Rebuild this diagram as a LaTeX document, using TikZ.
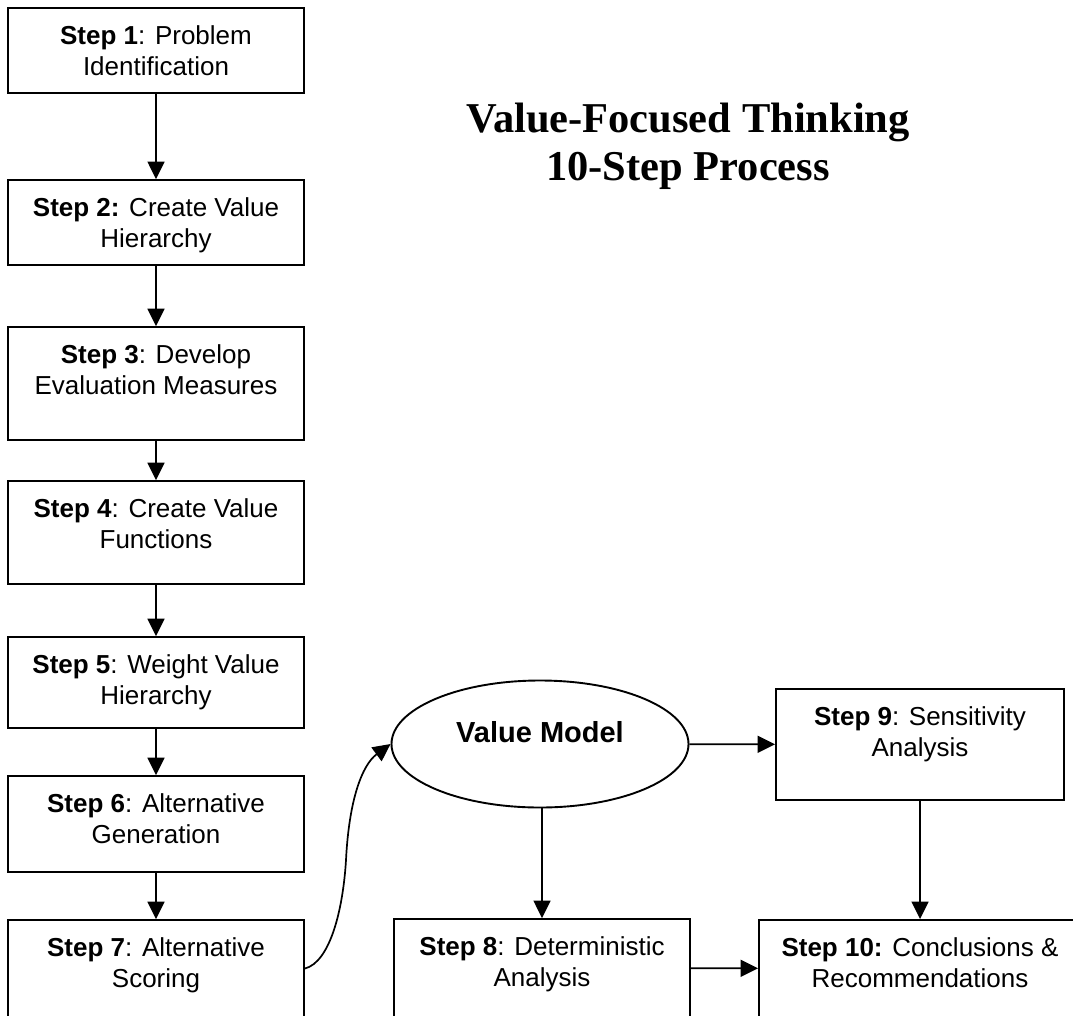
\documentclass[tikz,border=0pt]{standalone}
\usepackage{fontspec}
\setmainfont{Liberation Serif}
\setsansfont{Liberation Sans}
\usetikzlibrary{arrows.meta,shapes.geometric}
\begin{document}
\begin{tikzpicture}[x=1pt,y=-1pt,
  stepbox/.style={draw, line width=1.9pt, rectangle, inner sep=0pt},
  steplabel/.style={anchor=north, align=center, inner sep=0pt,
    font=\sffamily\fontsize{26}{31}\selectfont},
  modelnode/.style={draw, line width=1.9pt, ellipse, inner sep=0pt,
    font=\sffamily\bfseries\fontsize{29}{34}\selectfont,
    text height=20pt, text depth=24pt},
  flow/.style={line width=1.7pt, -{Triangle[length=17.5pt,width=17pt]}},
  titletext/.style={anchor=north, align=center, inner sep=0pt,
    font=\rmfamily\bfseries\fontsize{42.5}{48}\selectfont},
]
\useasboundingbox (0,0) rectangle (1073,1015);
\clip (0,0) rectangle (1073,1015);

% title
\node[titletext] (title) at (688,103) {Value-Focused Thinking\\10-Step Process};

% left column of steps
\node[stepbox, minimum width=296pt, minimum height=85pt] (s1) at (156,50.5) {};
\node[stepbox, minimum width=296pt, minimum height=85pt] (s2) at (156,222.5) {};
\node[stepbox, minimum width=296pt, minimum height=113pt] (s3) at (156,383.5) {};
\node[stepbox, minimum width=296pt, minimum height=103pt] (s4) at (156,532.5) {};
\node[stepbox, minimum width=296pt, minimum height=91pt] (s5) at (156,682.5) {};
\node[stepbox, minimum width=296pt, minimum height=96pt] (s6) at (156,824) {};
\node[stepbox, minimum width=296pt, minimum height=97pt] (s7) at (156,968.5) {};

% analysis steps
\node[modelnode, minimum width=297pt, minimum height=127pt] (vm) at (540,744) {Value Model};
\node[stepbox, minimum width=296pt, minimum height=98pt] (s8) at (542,968) {};
\node[stepbox, minimum width=288pt, minimum height=111pt] (s9) at (920,744.5) {};
\node[stepbox, minimum width=322pt, minimum height=97pt] (s10) at (920,968.5) {};

% box texts, set from the top edge of each box
\node[steplabel] (t1) at ([yshift=-18pt]s1.north) {\textbf{Step 1}: Problem\\Identification};
\node[steplabel] (t2) at ([yshift=-18pt]s2.north) {\textbf{Step 2:} Create Value\\Hierarchy};
\node[steplabel] (t3) at ([yshift=-18pt]s3.north) {\textbf{Step 3}: Develop\\Evaluation Measures};
\node[steplabel] (t4) at ([yshift=-18pt]s4.north) {\textbf{Step 4}: Create Value\\Functions};
\node[steplabel] (t5) at ([yshift=-18pt]s5.north) {\textbf{Step 5}: Weight Value\\Hierarchy};
\node[steplabel] (t6) at ([yshift=-18pt]s6.north) {\textbf{Step 6}: Alternative\\Generation};
\node[steplabel] (t7) at ([yshift=-18pt]s7.north) {\textbf{Step 7}: Alternative\\Scoring};
\node[steplabel] (t8) at ([yshift=-18pt]s8.north) {\textbf{Step 8}: Deterministic\\Analysis};
\node[steplabel] (t9) at ([yshift=-18pt]s9.north) {\textbf{Step 9}: Sensitivity\\Analysis};
\node[steplabel] (t10) at ([yshift=-18pt]s10.north) {\textbf{Step 10:} Conclusions \&\\Recommendations};

% connectors
\draw[flow] (s1) -- (s2);
\draw[flow] (s2) -- (s3);
\draw[flow] (s3) -- (s4);
\draw[flow] (s4) -- (s5);
\draw[flow] (s5) -- (s6);
\draw[flow] (s6) -- (s7);
\coordinate (bend) at (346,860);
\draw[flow] (s7.east) .. controls (330,962) and (343,910) .. (bend)
  .. controls (349,800) and (362,765) .. (vm.west);
\draw[flow] (vm.south -| s8.north) -- (s8.north);
\draw[flow] (vm) -- (s9);
\draw[flow] (s9) -- (s10);
\draw[flow] (s8) -- (s10);
\end{tikzpicture}
\end{document}
